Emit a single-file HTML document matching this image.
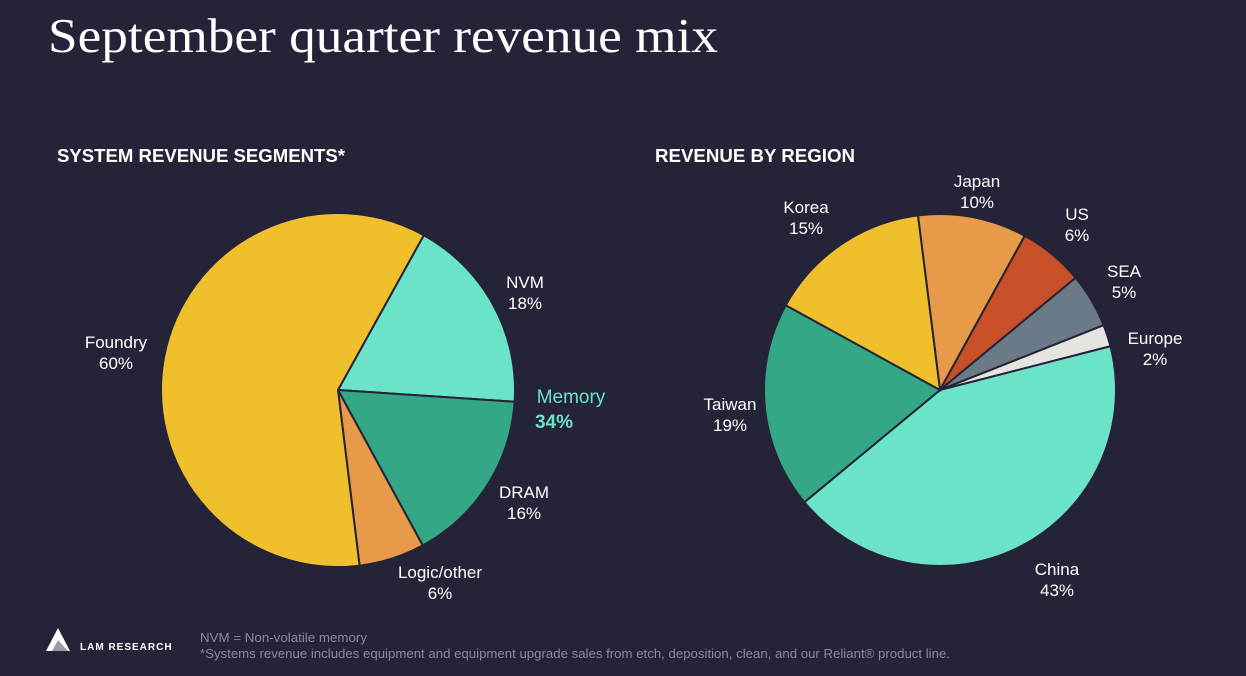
<!DOCTYPE html>
<html><head><meta charset="utf-8"><style>
html,body{margin:0;padding:0;background:#252338;}
svg{display:block;}
text{font-family:"Liberation Sans",Arial,sans-serif;}
</style></head><body>
<svg id="s" width="1246" height="676" viewBox="0 0 1246 676">
<rect width="1246" height="676" fill="#252338"/>
<text x="48" y="52" font-size="49" fill="#fff" textLength="670" lengthAdjust="spacingAndGlyphs" style="font-family:'Liberation Serif',serif">September quarter revenue mix</text>
<text x="57" y="162" font-size="18" font-weight="bold" fill="#fff" textLength="288" lengthAdjust="spacingAndGlyphs">SYSTEM REVENUE SEGMENTS*</text>
<text x="655" y="162" font-size="18" font-weight="bold" fill="#fff" textLength="200" lengthAdjust="spacingAndGlyphs">REVENUE BY REGION</text>
<g id="pie1"></g>
<g id="pie2"></g>
<g id="lab" font-size="17" fill="#fff" text-anchor="middle"></g>
<text x="571" y="403" font-size="19" fill="#6be3c9" text-anchor="middle">Memory</text>
<text x="554" y="428" font-size="19" font-weight="bold" fill="#6be3c9" text-anchor="middle">34%</text>
<g>
<polygon points="58,628 46,651 70,651" fill="#fff"/>
<polygon points="58,640 52,651 68,651" fill="#9a9aa8"/>
<text x="80" y="650" font-size="10" font-weight="bold" fill="#fff" letter-spacing="1">LAM RESEARCH</text>
</g>
<text x="200" y="642" font-size="13" fill="#8a8a98" textLength="167" lengthAdjust="spacingAndGlyphs">NVM = Non-volatile memory</text>
<text x="200" y="658" font-size="13" fill="#8a8a98" textLength="750" lengthAdjust="spacingAndGlyphs">*Systems revenue includes equipment and equipment upgrade sales from etch, deposition, clean, and our Reliant® product line.</text>
</svg>
<script>
const segNames=["NVM","DRAM","Logic/other","Foundry"];
const segValues=[18,16,6,60];
const segColors=["#6be3c9","#34a886","#e79a48","#f0c02c"];
const segLabelPos=[[525,288],[524,498],[440,578],[116,348]];
const regNames=["Japan","US","SEA","Europe","China","Taiwan","Korea"];
const regValues=[10,6,5,2,43,19,15];
const regColors=["#e79a48","#c75028","#6a7a86","#e6e4de","#6be3c9","#34a886","#f0c02c"];
const regLabelPos=[[977,187],[1077,220],[1124,277],[1155,344],[1057,575],[730,410],[806,213]];
const NS="http://www.w3.org/2000/svg";
function pie(gid,vals,cols,names,cx,cy,r,start){
  const g=document.getElementById(gid);
  const tot=vals.reduce((a,b)=>a+b,0);
  let a=start;
  vals.forEach((v,i)=>{
    const a2=a+v/tot*360;
    const p=t=>[cx+r*Math.sin(t*Math.PI/180),cy-r*Math.cos(t*Math.PI/180)];
    const [x1,y1]=p(a),[x2,y2]=p(a2);
    const path=document.createElementNS(NS,"path");
    path.setAttribute("d",`M${cx},${cy}L${x1},${y1}A${r},${r} 0 ${a2-a>180?1:0} 1 ${x2},${y2}Z`);
    path.setAttribute("fill",cols[i]);
    path.setAttribute("stroke","#252338");
    path.setAttribute("stroke-width","2");
    
    
    g.appendChild(path);
    a=a2;
  });
}
function labels(names,vals,pos){
  const g=document.getElementById("lab");
  names.forEach((n,i)=>{
    const t=document.createElementNS(NS,"text");
    t.setAttribute("x",pos[i][0]);t.setAttribute("y",pos[i][1]);
    t.innerHTML=`<tspan x="${pos[i][0]}">${n}</tspan><tspan x="${pos[i][0]}" dy="21">${vals[i]}%</tspan>`;
    
    
    g.appendChild(t);
  });
}
pie("pie1",segValues,segColors,segNames,338,390,177,29);
pie("pie2",regValues,regColors,regNames,940,390,176,-7.2);
labels(segNames,segValues,segLabelPos);
labels(regNames,regValues,regLabelPos);
</script>
</body></html>
